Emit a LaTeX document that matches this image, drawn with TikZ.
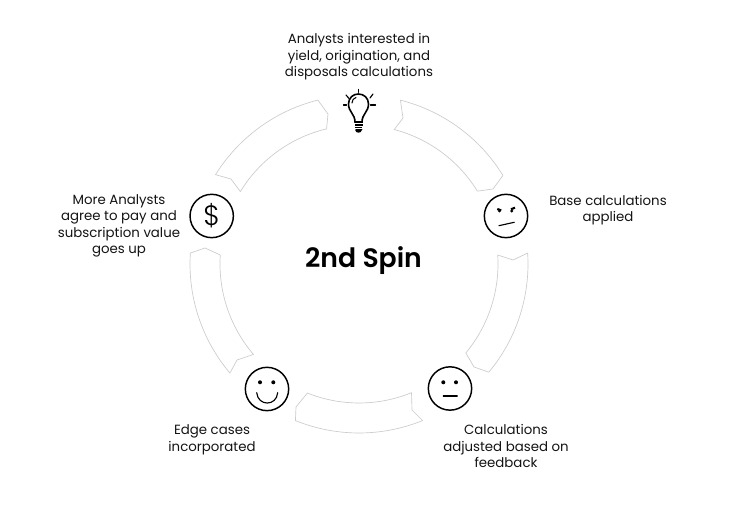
\documentclass[tikz,border=0pt]{standalone}
\usepackage{fontspec}
\setmainfont{Poppins}
\newfontfamily\semif{Poppins SemiBold}
\newfontfamily\lightf{Poppins Light}
\tikzset{
 x=0.75pt,y=0.75pt,
 band/.style={draw=black!20,line width=0.5pt,fill=white,line join=round},
 icon/.style={circle,draw=black,line width=1.1pt,minimum size=32.5pt,inner sep=0pt},
 stroke/.style={draw=black,line width=0.85pt,line cap=round},
 dot/.style={fill=black},
 lab/.style={align=center,font=\fontsize{10}{12.3}\selectfont,inner sep=0pt,text=black!92},
}
% #1,#2 outer arc angles; #3 notch; #4,#5 inner arc angles; #6 notch
\newcommand\bandshape[6]{%
 \draw[band] ([shift={(#1:169)}]c) arc[start angle=#1,end angle=#2,radius=169]
 -- #3 -- ([shift={(#4:139)}]c) arc[start angle=#4,end angle=#5,radius=139]
 -- #6 -- cycle;}
\begin{document}
\begin{tikzpicture}
\useasboundingbox (0,0) rectangle (740,516);
\fill[white] (0,0) rectangle (740,516);
\coordinate (c) at (359,252);
\bandshape{104.1}{148.1}{(231,337)}{148.6}{103.5}{(328,402)}
\bandshape{75.8}{31.6}{(493,327)}{31.6}{75.3}{(403,398)}
\bandshape{3.7}{-39.8}{(474,149)}{-39.8}{3.7}{(513,256)}
\bandshape{-67.9}{-112.1}{(296,109)}{-111.8}{-67.8}{(412,106)}
\bandshape{220.2}{176.3}{(205,268)}{176.3}{220.6}{(237,156)}
\node[icon] (dollar) at (211.7,300) {\lightf\fontsize{21}{21}\selectfont\$};
\node[icon] (angry) at (506,300) {};
\node[icon] (neutral) at (450,127.5) {};
\node[icon] (smile) at (267,127) {};
\begin{scope}[shift={(0,516)},yscale=-1]
 % angry face
 \draw[stroke,line width=1.6pt,line cap=butt] (497.3,209) -- (501.2,210.4);
 \draw[stroke,line width=1.6pt,line cap=butt] (515,207.7) -- (511,209.3);
 \fill[dot] (499.4,211) circle (1.6);
 \fill[dot] (511.8,211) circle (1.6);
 \draw[stroke] (499,225.7) -- (514.3,222.3);
 % neutral face
 \fill[dot] (443.3,382.3) circle (2);
 \fill[dot] (456,382.3) circle (2);
 \draw[stroke] (443.3,396) -- (457.3,396);
 % smiling face
 \fill[dot] (260,382.3) circle (2);
 \fill[dot] (273.3,382.3) circle (2);
 \draw[stroke] (256.7,392.7) .. controls (258,406.5) and (276.5,406.5) .. (277.7,392.7);
 % light bulb
 \draw[stroke,line width=1.2pt] (355,122) .. controls (355,114) and (348.5,112) .. (348.5,104)
   .. controls (348.5,98) and (353,94) .. (358.3,94)
   .. controls (364,94) and (368.5,98) .. (368.5,104)
   .. controls (368.5,112) and (362,114) .. (362,122) -- cycle;
 \draw[stroke,line width=0.8pt] (352,103) .. controls (352,100) and (353.5,98.5) .. (356,97.5);
 \draw[stroke,line width=1.4pt,line cap=butt] (354.5,122.5) -- (362.5,122.5);
 \draw[stroke,line width=1.2pt,line cap=butt] (354.5,125) -- (362.5,125);
 \draw[stroke,line width=1.2pt,line cap=butt] (354.8,127.5) -- (362.2,127.5);
 \draw[stroke,line width=1.2pt] (356,130) -- (361,130) .. controls (360.5,132.5) and (356.5,132.5) .. (356,130);
 \draw[stroke] (358.3,89.5) -- (358.3,92.3);
 \draw[stroke] (343.5,105) -- (346.5,105);
 \draw[stroke] (370.5,105) -- (375.5,105);
 \draw[stroke] (346,95) -- (349,98.5);
 \draw[stroke] (373,94) -- (370,98);
\end{scope}
\node[lab] (top) at (359,459) {Analysts interested in\\yield, origination, and\\disposals calculations};
\node[lab] (base) at (608,306) {Base calculations\\applied};
\node[lab] (more) at (119,290) {More Analysts\\agree to pay and\\subscription value\\goes up};
\node[lab] (edge) at (212,76) {Edge cases\\incorporated};
\node[lab] (adj) at (506,70) {Calculations\\adjusted based on\\feedback};
\node[font=\semif\fontsize{20}{22}\selectfont,inner sep=0pt] (spin) at (363.5,255.5) {2nd Spin};
\end{tikzpicture}
\end{document}
